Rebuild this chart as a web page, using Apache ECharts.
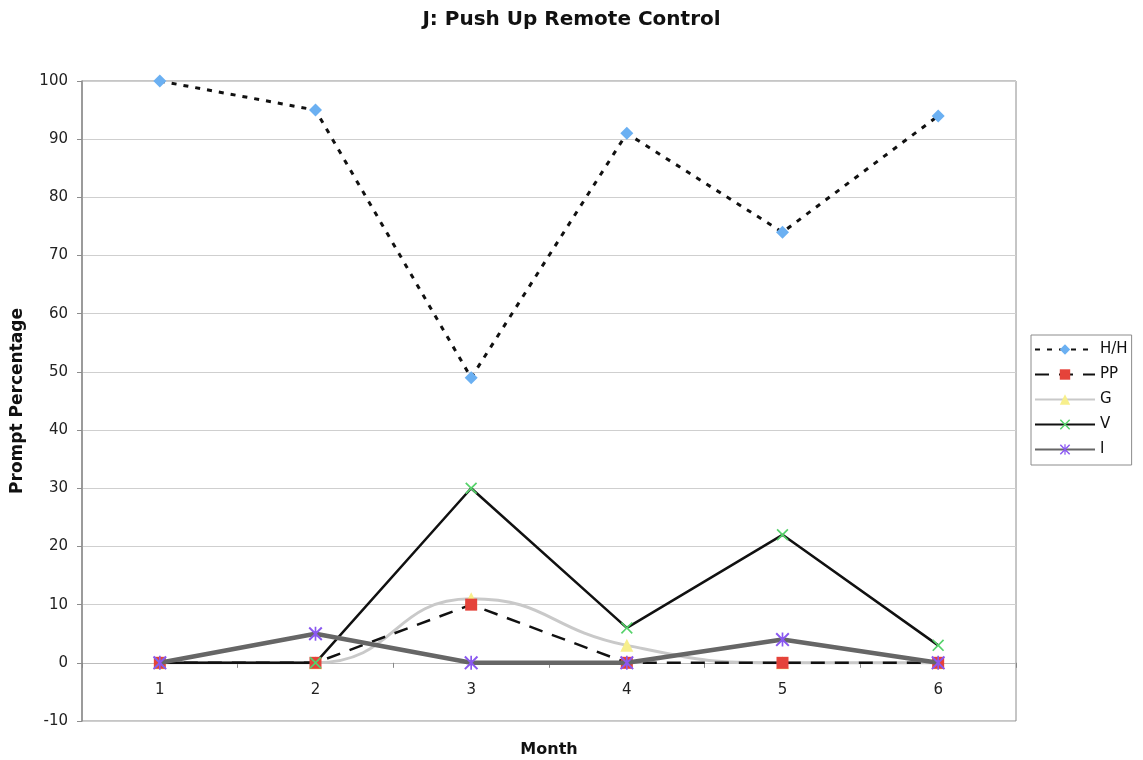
<!DOCTYPE html>
<html><head><meta charset="utf-8">
<script src="https://cdn.jsdelivr.net/npm/echarts@6/dist/echarts.min.js"></script>
<style>html,body{margin:0;padding:0;background:#fff}#c{width:1143px;height:760px}</style>
</head><body><div id="c"></div>
<script>
const months = ['1','2','3','4','5','6'];
const hh = [100, 95, 49, 91, 74, 94];
const pp = [0, 0, 10, 0, 0, 0];
const g  = [0, 0, 11, 3, 0, 0];
const v  = [0, 0, 30, 6, 22, 3];
const ii = [0, 5, 0, 0, 4, 0];

const crossPath = 'path://M0,1 L1,0 L5,4 L9,0 L10,1 L6,5 L10,9 L9,10 L5,6 L1,10 L0,9 L4,5 Z';
const starPath = 'path://M0,1 L1,0 L5,4 L9,0 L10,1 L6,5 L10,9 L9,10 L5,6 L1,10 L0,9 L4,5 Z M4.4,0 L5.6,0 L5.6,10 L4.4,10 Z';
const FONT = 'DejaVu Sans';

const chart = echarts.init(document.getElementById('c'));
chart.setOption({
  animation: false,
  backgroundColor: '#fff',
  textStyle: {fontFamily: FONT},
  title: {
    text: 'J: Push Up Remote Control', left: 'center', top: 5,
    textStyle: {fontFamily: FONT, fontWeight: 'bold', fontSize: 20, color: '#111'}
  },
  grid: {left: 82, right: 127, top: 81, bottom: 39, show: true, borderColor: '#8c8c8c', borderWidth: 1,
         containLabel: false, outerBoundsMode: 'none'},
  legend: {
    orient: 'vertical', left: 1031, top: 335,
    itemWidth: 60, itemHeight: 13, itemGap: 10,
    padding: [7, 4, 8, 3],
    borderColor: '#8c8c8c', borderWidth: 1,
    textStyle: {fontFamily: FONT, fontSize: 15, color: '#111'},
    data: ['H/H','PP','G','V','I']
  },
  xAxis: {
    type: 'category', data: months, boundaryGap: true,
    name: 'Month', nameLocation: 'middle', nameGap: 29,
    nameTextStyle: {fontFamily: FONT, fontWeight: 'bold', fontSize: 16, color: '#111', verticalAlign: 'middle'},
    axisLine: {onZero: true, lineStyle: {color: '#bbb', width: 1}},
    axisTick: {show: true, length: 5, lineStyle: {color: '#888'}},
    axisLabel: {fontFamily: FONT, fontSize: 15, color: '#222', margin: -38},
    splitLine: {show: false}
  },
  yAxis: {
    type: 'value', min: -10, max: 100, interval: 10,
    name: 'Prompt Percentage', nameLocation: 'middle', nameGap: 64, nameRotate: 90,
    nameTextStyle: {fontFamily: FONT, fontWeight: 'bold', fontSize: 17, color: '#111', verticalAlign: 'middle'},
    axisLine: {show: true, lineStyle: {color: '#8c8c8c', width: 1.5}},
    axisTick: {show: true, length: 5, lineStyle: {color: '#8c8c8c'}},
    axisLabel: {fontFamily: FONT, fontSize: 15, color: '#222', margin: 14},
    splitLine: {show: true, lineStyle: {color: '#cfcfcf', width: 1.2}}
  },
  series: [
    {name: 'H/H', type: 'line', data: hh, symbol: 'diamond', symbolSize: 13,
     itemStyle: {color: '#6bb0f2'},
     lineStyle: {color: '#111', width: 3, type: [5, 7]}, z: 3},
    {name: 'PP', type: 'line', data: pp, symbol: 'rect', symbolSize: 12,
     itemStyle: {color: '#e5433a'},
     lineStyle: {color: '#111', width: 2.5, type: [14, 10]}, z: 3},
    {name: 'G', type: 'line', data: g, smooth: 0.5, symbol: 'triangle', symbolSize: 13,
     itemStyle: {color: '#f7ef8c'},
     lineStyle: {color: '#c9c9c9', width: 3}, z: 2},
    {name: 'V', type: 'line', data: v, symbol: crossPath, symbolSize: 12,
     itemStyle: {color: '#55d26a'},
     lineStyle: {color: '#111', width: 2.5}, z: 3},
    {name: 'I', type: 'line', data: ii, symbol: starPath, symbolSize: 14,
     itemStyle: {color: '#8a58f0'},
     lineStyle: {color: '#666', width: 4.5}, z: 4}
  ]
});
</script></body></html>
